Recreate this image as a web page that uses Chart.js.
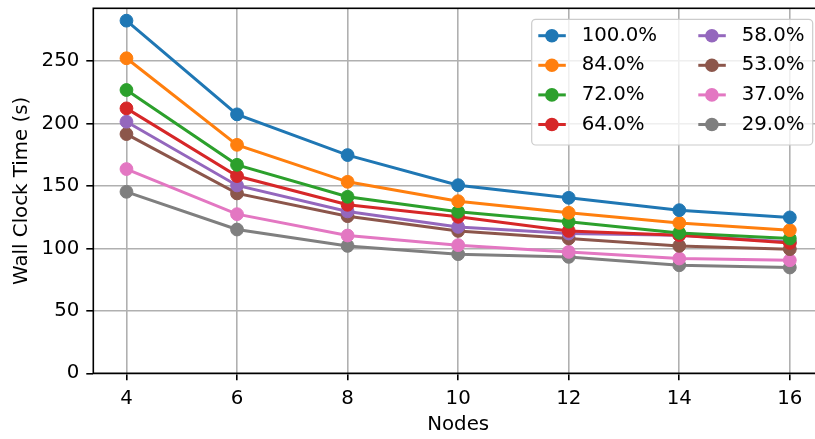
<!DOCTYPE html>
<html>
<head>
  <title>Wall Clock Time vs Nodes</title>
  <script src="https://cdn.jsdelivr.net/npm/chart.js"></script>
</head>
<body style="margin:0;background:#fff;overflow:hidden;">
  <canvas id="timeChart" width="840" height="439"></canvas>

  <script>
    // data
    const nodes = [4, 6, 8, 10, 12, 14, 16];
    const xTicks = [4, 6, 8, 10, 12, 14, 16];
    const yTicks = [0, 50, 100, 150, 200, 250];

    const labels = ['100.0%', '84.0%', '72.0%', '64.0%', '58.0%', '53.0%', '37.0%', '29.0%'];
    const t100 = [282.3, 207.3, 174.7, 150.6, 140.5, 130.6, 124.8];
    const t84 = [252.2, 182.9, 153.3, 137.8, 128.5, 120.4, 114.6];
    const t72 = [226.8, 166.9, 141.3, 129.3, 121.3, 112.4, 107.9];
    const t64 = [212.1, 157.9, 134.9, 125.3, 114.0, 110.6, 104.4];
    const t58 = [201.4, 150.4, 129.6, 117.2, 111.9, 110.6, 105.2];
    const t53 = [191.5, 144.0, 125.8, 114.0, 107.9, 102.0, 99.4];
    const t37 = [163.5, 127.4, 110.3, 102.6, 97.2, 91.9, 90.5];
    const t29 = [145.3, 115.1, 102.0, 95.4, 93.2, 86.5, 84.7];

    const series = [t100, t84, t72, t64, t58, t53, t37, t29];
    const colors = ['#1f77b4', '#ff7f0e', '#2ca02c', '#d62728', '#9467bd', '#8c564b', '#e377c2', '#7f7f7f'];

    const FONT = { family: 'DejaVu Sans', size: 19.8 };

    // matplotlib-like frame (left/top/bottom spines)
    const spines = {
      id: 'spines',
      afterDatasetsDraw(chart) {
        const { ctx, chartArea: a } = chart;
        ctx.save();
        ctx.strokeStyle = '#000';
        ctx.lineWidth = 1.6;
        ctx.strokeRect(a.left, a.top, a.right - a.left, a.bottom - a.top);
        ctx.restore();
      }
    };

    // two-column legend in the upper right, column-major like matplotlib
    const boxLegend = {
      id: 'boxLegend',
      afterDraw(chart) {
        const ctx = chart.ctx;
        ctx.save();
        ctx.beginPath();
        ctx.roundRect(531.7, 19.3, 281, 125.7, 4);
        ctx.fillStyle = 'rgba(255,255,255,0.8)';
        ctx.fill();
        ctx.strokeStyle = '#cccccc';
        ctx.lineWidth = 1.2;
        ctx.stroke();

        ctx.font = '19.8px "DejaVu Sans"';
        ctx.textBaseline = 'middle';
        ctx.textAlign = 'left';
        chart.data.datasets.forEach((ds, i) => {
          const col = i < 4 ? 0 : 1;
          const row = i % 4;
          const x0 = col === 0 ? 538.3 : 698.3;
          const y = 35.7 + row * 29.6;
          ctx.strokeStyle = ds.borderColor;
          ctx.lineWidth = 3;
          ctx.beginPath();
          ctx.moveTo(x0, y);
          ctx.lineTo(x0 + 27.5, y);
          ctx.stroke();
          ctx.fillStyle = ds.borderColor;
          ctx.beginPath();
          ctx.arc(x0 + 13.6, y, 6.8, 0, Math.PI * 2);
          ctx.fill();
          ctx.fillStyle = '#000';
          ctx.fillText(ds.label, x0 + 43.4, y);
        });
        ctx.restore();
      }
    };

    new Chart(document.getElementById('timeChart'), {
      type: 'line',
      data: {
        datasets: series.map((vals, i) => ({
          label: labels[i],
          data: nodes.map((n, j) => ({ x: n, y: vals[j] })),
          borderColor: colors[i],
          backgroundColor: colors[i],
          borderWidth: 3,
          pointRadius: 6.4,
          pointBorderWidth: 1,
          pointBackgroundColor: colors[i],
          pointBorderColor: colors[i],
          tension: 0
        }))
      },
      options: {
        responsive: false,
        animation: false,
        layout: { padding: { left: 0, top: 8.3, right: 17, bottom: 0 } },
        plugins: {
          legend: { display: false },
          tooltip: { enabled: false }
        },
        scales: {
          x: {
            type: 'linear',
            min: 3.4,
            max: 16.6,
            afterBuildTicks: s => { s.ticks = xTicks.map(v => ({ value: v })); },
            afterFit: s => { s.height = 65.7; s.paddingLeft = 0; s.paddingRight = 0; },
            ticks: { color: '#000', font: FONT, padding: 7, maxRotation: 0, autoSkip: false },
            grid: { color: '#b0b0b0', lineWidth: 1.6, tickColor: '#000', tickLength: 7, tickWidth: 1.6 },
            border: { display: false },
            title: { display: true, text: 'Nodes', color: '#000', font: FONT, padding: { top: 0, bottom: 2.3 } }
          },
          y: {
            min: 0,
            max: 292.2,
            afterBuildTicks: s => { s.ticks = yTicks.map(v => ({ value: v })); },
            afterFit: s => { s.width = 93.3; s.paddingTop = 0; s.paddingBottom = 0; },
            ticks: { color: '#000', font: FONT, padding: 7 },
            grid: { color: '#b0b0b0', lineWidth: 1.6, tickColor: '#000', tickLength: 7, tickWidth: 1.6 },
            border: { display: false },
            title: { display: true, text: 'Wall Clock Time (s)', color: '#000', font: FONT, padding: { top: 10.4, bottom: 0 } }
          }
        }
      },
      plugins: [spines, boxLegend]
    });
  </script>
</body>
</html>
